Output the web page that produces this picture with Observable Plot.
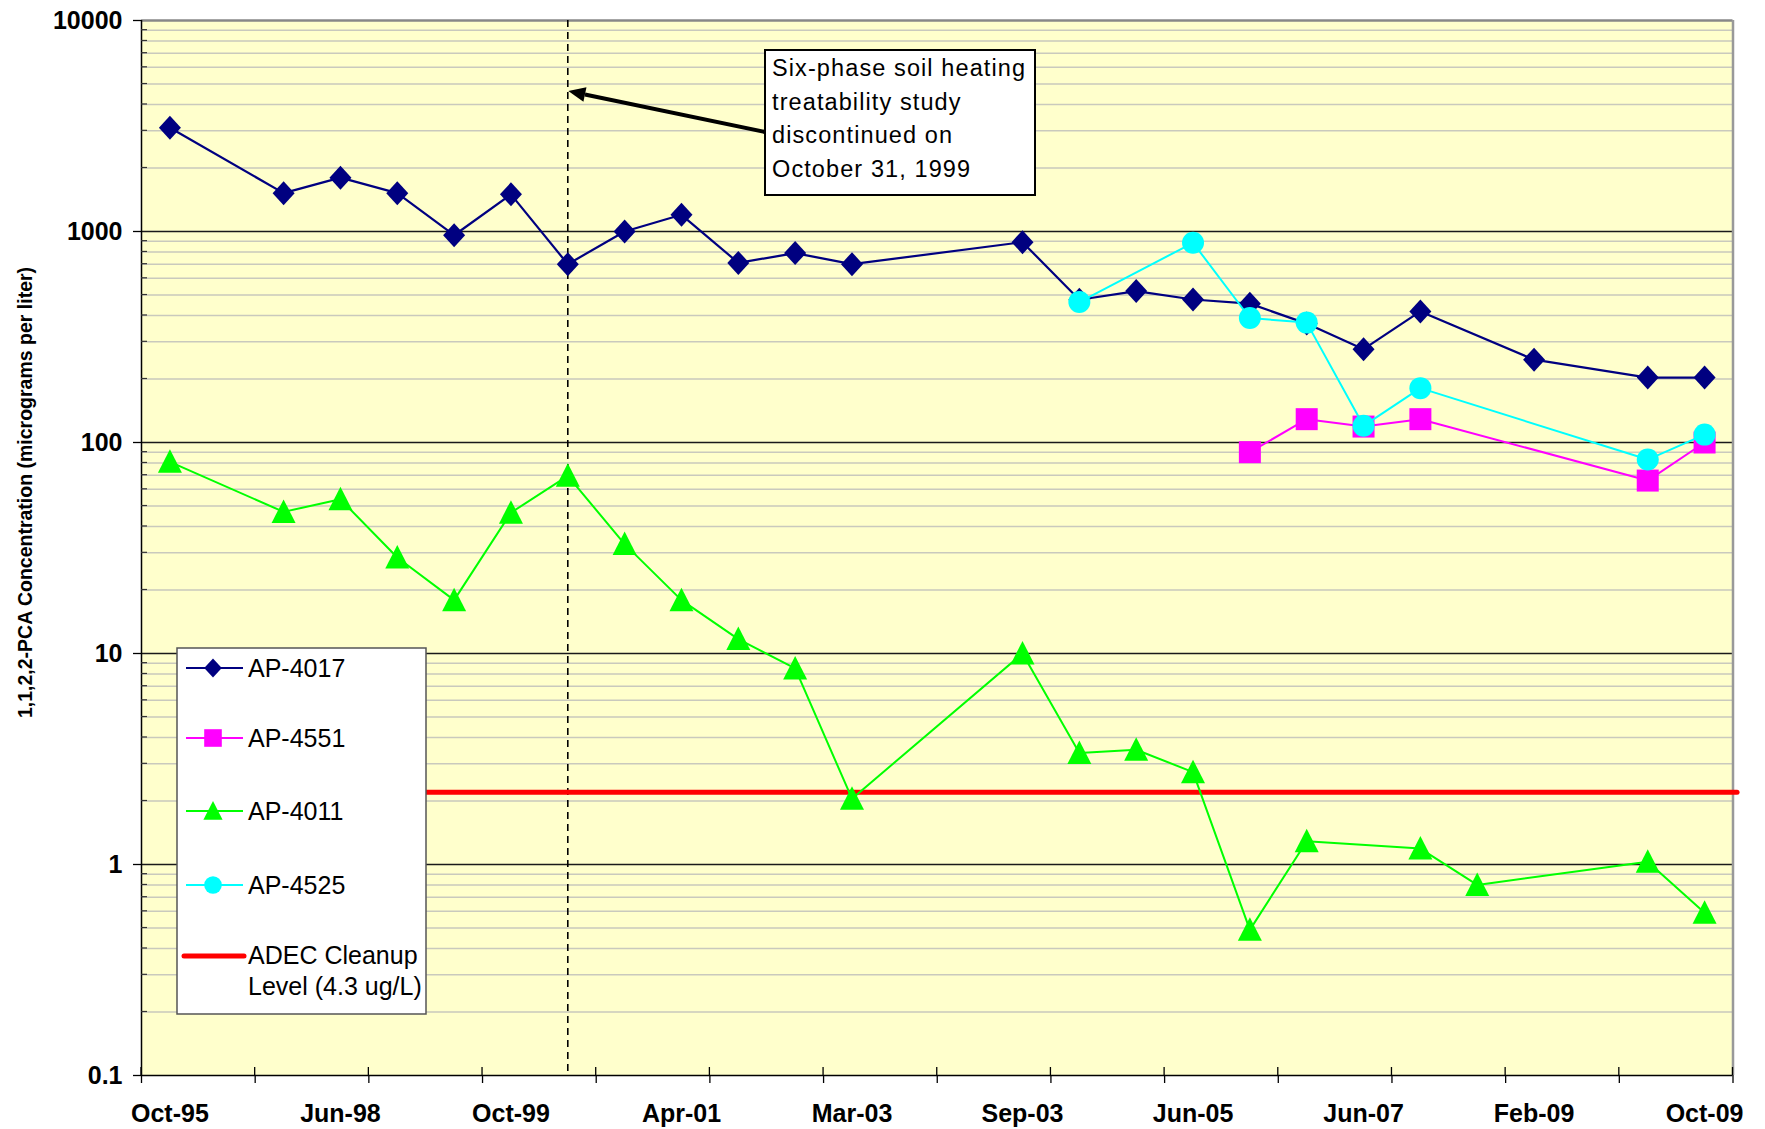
<!DOCTYPE html>
<html><head><meta charset="utf-8">
<script src="https://cdn.jsdelivr.net/npm/d3@7"></script>
<script src="https://cdn.jsdelivr.net/npm/@observablehq/plot@0.6"></script>
<style>body{margin:0;background:#fff;} svg{display:block}</style>
</head><body><div id="chart"></div>
<script>
// ---- data ----
const categoryCount = 28;
const tickIndex = [0, 3, 6, 9, 12, 15, 18, 21, 24, 27];
const tickLabels = ["Oct-95", "Jun-98", "Oct-99", "Apr-01", "Mar-03", "Sep-03", "Jun-05", "Jun-07", "Feb-09", "Oct-09"];
const ap4017 = [3100, null, 1520, 1800, 1520, 960, 1500, 700, 1000, 1200, 710, 790, 700, null, null, 890, 475, 522, 476, 455, 366, 277, 418, null, 247, null, 203, 203];
const ap4551 = [null, null, null, null, null, null, null, null, null, null, null, null, null, null, null, null, null, null, null, 90, 129, 119, 129, null, null, null, 66, 100];
const ap4011 = [81, null, 46.9, 53.8, 28.5, 17.9, 46.5, 69.5, 33, 17.9, 11.7, 8.5, 2.05, null, null, 10, 3.38, 3.5, 2.74, 0.49, 1.29, null, 1.19, 0.8, null, null, 1.03, 0.59];
const ap4525 = [null, null, null, null, null, null, null, null, null, null, null, null, null, null, null, null, 463, null, 884, 389, 370, 120, 181, null, null, null, 83, 109];
const cleanupLevel = 2.2;
const studyEndIndex = 7;
const yDecades = [0.1, 1, 10, 100, 1000, 10000];
const seriesNames = ["AP-4017", "AP-4551", "AP-4011", "AP-4525"];
const cleanupLabel = ["ADEC Cleanup", "Level (4.3 ug/L)"];
const noteLines = ["Six-phase soil heating", "treatability study", "discontinued on", "October 31, 1999"];
const yLabel = "1,1,2,2-PCA Concentration (micrograms per liter)";

// ---- symbols ----
const diamondSym = {draw(ctx) { ctx.moveTo(0, -12); ctx.lineTo(11, 0); ctx.lineTo(0, 12); ctx.lineTo(-11, 0); ctx.closePath(); }};
const squareSym = {draw(ctx) { ctx.moveTo(-11, -11); ctx.lineTo(11, -11); ctx.lineTo(11, 11); ctx.lineTo(-11, 11); ctx.closePath(); }};
const triangleSym = {draw(ctx) { ctx.moveTo(0, -12.5); ctx.lineTo(12, 11); ctx.lineTo(-12, 11); ctx.closePath(); }};
const circleSym = {draw(ctx) { ctx.moveTo(11, 0); ctx.arc(0, 0, 11, 0, 2 * Math.PI); }};

const series = [
  {name: seriesNames[0], values: ap4017, color: "#000080", symbol: diamondSym, width: 2.2},
  {name: seriesNames[1], values: ap4551, color: "#FF00FF", symbol: squareSym, width: 2},
  {name: seriesNames[2], values: ap4011, color: "#00FF00", symbol: triangleSym, width: 2},
  {name: seriesNames[3], values: ap4525, color: "#00FFFF", symbol: circleSym, width: 2}
];
const rowsOf = (vals) => vals.map((v, i) => ({i, v})).filter(d => d.v != null);

const minorTicks = [];
for (const d of yDecades.slice(0, -1)) for (let m = 2; m <= 9; m++) minorTicks.push(+(d * m).toPrecision(3));
const tickMarks = d3.range(-0.5, categoryCount, 2);
const xMin = -0.5, xMax = categoryCount - 0.5;

const marks = [
  Plot.frame({fill: "#FFFFCC", stroke: "none"}),
  Plot.ruleY(minorTicks, {stroke: "#c9c9bd", strokeWidth: 1.5}),
  Plot.ruleY(yDecades.slice(1, -1), {stroke: "#1a1a1a", strokeWidth: 1.3}),
  Plot.ruleY([yDecades[yDecades.length - 1]], {stroke: "#888", strokeWidth: 2.5}),
  Plot.ruleX([xMax], {stroke: "#999", strokeWidth: 2.5}),
  Plot.ruleX([studyEndIndex], {stroke: "#000", strokeWidth: 1.6, strokeDasharray: "7,5"}),
  Plot.ruleY([cleanupLevel], {x1: 4.5, x2: xMax + 0.08, stroke: "#FF0000", strokeWidth: 5, strokeLinecap: "round"}),
];
for (const s of series) {
  const rows = rowsOf(s.values);
  marks.push(Plot.line(rows, {x: "i", y: "v", stroke: s.color, strokeWidth: s.width}));
  marks.push(Plot.dot(rows, {x: "i", y: "v", fill: s.color, stroke: "none", symbol: s.symbol, r: 10}));
}
marks.push(
  Plot.ruleX([xMin], {stroke: "#000", strokeWidth: 1.5}),
  Plot.ruleY([yDecades[0]], {stroke: "#000", strokeWidth: 1.5}),
  Plot.axisY(yDecades, {tickSize: 8, tickPadding: 11, fontSize: 25, fontWeight: "bold", tickFormat: d => String(d), label: null, strokeWidth: 1.3}),
  Plot.axisX(tickMarks, {tickSize: 8, tickFormat: () => "", label: null, strokeWidth: 1.3}),
  Plot.axisX(tickIndex, {tickSize: 0, tickPadding: 29, fontSize: 25, fontWeight: "bold", tickFormat: d => tickLabels[tickIndex.indexOf(d)], label: null})
);

const plot = Plot.plot({
  width: 1765, height: 1129,
  marginLeft: 141, marginRight: 32.5, marginTop: 20, marginBottom: 54,
  x: {type: "linear", domain: [xMin, xMax]},
  y: {type: "log", domain: [yDecades[0], yDecades[yDecades.length - 1]]},
  style: {fontFamily: "'Liberation Sans', Arial, sans-serif", background: "white", color: "black", overflow: "visible"},
  marks
});
document.getElementById("chart").appendChild(plot);

// ---- decorations: inside ticks, axis title, annotation, legend ----
const svg = d3.select(plot);
const xs = plot.scale("x"), ys = plot.scale("y");
const x0 = xs.apply(xMin), yBottom = ys.apply(yDecades[0]);
const deco = svg.append("g");
deco.selectAll("line.mt").data(minorTicks).join("line")
  .attr("x1", x0).attr("x2", x0 + 6).attr("y1", d => ys.apply(d)).attr("y2", d => ys.apply(d))
  .attr("stroke", "#333").attr("stroke-width", 1.2);
deco.selectAll("line.xt").data(tickMarks).join("line")
  .attr("x1", d => xs.apply(d)).attr("x2", d => xs.apply(d)).attr("y1", yBottom - 8).attr("y2", yBottom)
  .attr("stroke", "#000").attr("stroke-width", 1.3);

const yTop = ys.apply(yDecades[yDecades.length - 1]);
svg.append("text").attr("transform", `translate(25,${(yTop + yBottom) / 2 - 55}) rotate(-90)`)
  .attr("text-anchor", "middle").attr("dominant-baseline", "central")
  .attr("font-size", 19.5).attr("font-weight", "bold").text(yLabel);

// annotation
const note = svg.append("g").attr("text-anchor", "start");
const bx = 765, by = 50, bw = 270, bh = 145;
const tail = [bx, 132], tip = [xs.apply(studyEndIndex) + 1, 91];
const ang = Math.atan2(tip[1] - tail[1], tip[0] - tail[0]);
const hl = 17, hw = 7.5;
const base = [tip[0] - hl * Math.cos(ang), tip[1] - hl * Math.sin(ang)];
note.append("line").attr("x1", tail[0]).attr("y1", tail[1]).attr("x2", base[0]).attr("y2", base[1])
  .attr("stroke", "#000").attr("stroke-width", 4);
note.append("path").attr("d", `M${tip[0]},${tip[1]}L${base[0] - hw * Math.sin(ang)},${base[1] + hw * Math.cos(ang)}L${base[0] + hw * Math.sin(ang)},${base[1] - hw * Math.cos(ang)}Z`).attr("fill", "#000");
note.append("rect").attr("x", bx).attr("y", by).attr("width", bw).attr("height", bh)
  .attr("fill", "#fff").attr("stroke", "#000").attr("stroke-width", 2);
note.selectAll("text").data(noteLines).join("text")
  .attr("x", bx + 7).attr("y", (d, i) => 76 + i * 33.7)
  .attr("font-size", 23.5).attr("letter-spacing", "1.1px").text(d => d);

// legend
const lg = svg.append("g").attr("text-anchor", "start");
lg.append("rect").attr("x", 177).attr("y", 648).attr("width", 249).attr("height", 366)
  .attr("fill", "#fff").attr("stroke", "#555").attr("stroke-width", 1.5);
const rowY = [668, 738, 811, 885];
series.forEach((s, k) => {
  const yy = rowY[k];
  lg.append("line").attr("x1", 186).attr("x2", 243).attr("y1", yy).attr("y2", yy).attr("stroke", s.color).attr("stroke-width", 2);
  lg.append("path").attr("d", d3.symbol(s.symbol)()).attr("transform", `translate(213,${yy}) scale(0.8)`).attr("fill", s.color);
  lg.append("text").attr("x", 248).attr("y", yy + 8.5).attr("font-size", 25).text(s.name);
});
lg.append("line").attr("x1", 184).attr("x2", 244).attr("y1", 956).attr("y2", 956)
  .attr("stroke", "#FF0000").attr("stroke-width", 5).attr("stroke-linecap", "round");
lg.selectAll("text.c").data(cleanupLabel).join("text").attr("x", 248).attr("y", (d, i) => 964 + i * 31)
  .attr("font-size", 25).text(d => d);
</script>
</body></html>
